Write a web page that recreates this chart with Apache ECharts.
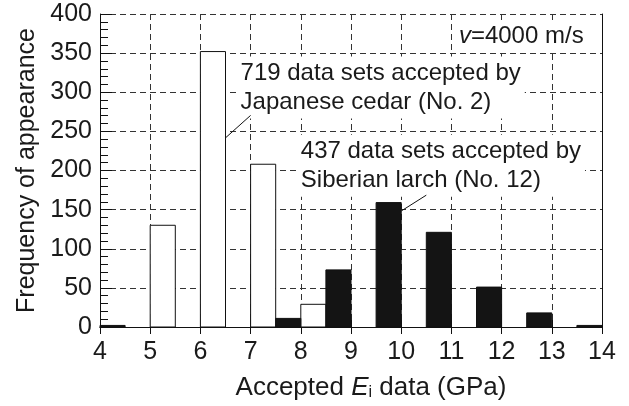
<!DOCTYPE html>
<html>
<head>
<meta charset="utf-8">
<script src="https://cdn.jsdelivr.net/npm/echarts@6/dist/echarts.min.js"></script>
<style>
html,body{margin:0;padding:0;background:#fff;}
#c{width:629px;height:406px;}
</style>
</head>
<body>
<div id="c"></div>
<script>
// ---- data ----
var binWidth = 0.5;                       // GPa width of each histogram bin
var cedarBinStart = [5, 6, 7, 8];         // Japanese cedar (No. 2), white bars
var cedarCounts   = [130, 352, 208, 29];
var larchBinStart = [4, 7.5, 8.5, 9.5, 10.5, 11.5, 12.5, 13.5]; // Siberian larch (No. 12), black bars
var larchCounts   = [2, 11, 73, 159, 121, 51, 18, 2];
var xTicks = [4, 5, 6, 7, 8, 9, 10, 11, 12, 13, 14];
var yTicks = [0, 50, 100, 150, 200, 250, 300, 350, 400];

var FONT = '"Liberation Sans", Arial, Helvetica, sans-serif';

function toPairs(starts, counts) {
  return starts.map(function (s, i) { return [s, counts[i]]; });
}

function barRenderer(fill) {
  return function (params, api) {
    var x0 = api.value(0), v = api.value(1);
    var p0 = api.coord([x0, v]);
    var p1 = api.coord([x0 + binWidth, 0]);
    return {
      type: 'rect',
      shape: { x: p0[0], y: p0[1], width: p1[0] - p0[0], height: p1[1] - p0[1] },
      style: { fill: fill, stroke: '#111', lineWidth: 1 }
    };
  };
}

var chart = echarts.init(document.getElementById('c'), null, { renderer: 'canvas' });

var gridLine = { show: true, lineStyle: { color: '#333', width: 1, type: [6, 4] } };

var option = {
  animation: false,
  backgroundColor: '#fff',
  textStyle: { fontFamily: FONT },
  grid: { left: 100, right: 27, top: 14, bottom: 78 },
  xAxis: [{
    type: 'value', min: xTicks[0], max: xTicks[xTicks.length - 1], interval: 1,
    position: 'bottom',
    axisLine: { show: true, lineStyle: { color: '#111', width: 1 } },
    axisTick: { show: true, inside: true, length: 7, lineStyle: { color: '#111' } },
    axisLabel: { fontSize: 25, color: '#1a1a1a', margin: 13, fontFamily: FONT },
    splitLine: gridLine,
    name: 'Accepted {it|E}{sub|i} data (GPa)',
    nameLocation: 'middle', nameGap: 47,
    nameTextStyle: {
      fontSize: 26, color: '#1a1a1a', fontFamily: FONT, padding: [0, 0, 0, 40],
      rich: {
        it: { fontSize: 26, fontStyle: 'italic', color: '#1a1a1a', fontFamily: FONT },
        sub: { fontSize: 16, color: '#1a1a1a', fontFamily: FONT, verticalAlign: 'bottom', padding: [11, 0, 0, 0] }
      }
    }
  }, {
    type: 'value', min: xTicks[0], max: xTicks[xTicks.length - 1], interval: 1,
    position: 'top',
    axisLine: { show: true, lineStyle: { color: '#111', width: 1 } },
    axisTick: { show: true, inside: true, length: 7, lineStyle: { color: '#111' } },
    axisLabel: { show: false },
    splitLine: { show: false }
  }],
  yAxis: [{
    type: 'value', min: yTicks[0], max: yTicks[yTicks.length - 1], interval: 50,
    axisLine: { show: true, lineStyle: { color: '#111', width: 1 } },
    axisTick: { show: true, inside: true, length: 12, lineStyle: { color: '#111' } },
    minorTick: { show: true, splitNumber: 5, length: 8, lineStyle: { color: '#111' } },
    axisLabel: { fontSize: 25, color: '#1a1a1a', margin: 8, fontFamily: FONT },
    splitLine: gridLine,
    name: 'Frequency of appearance', nameLocation: 'middle', nameGap: 59,
    nameTextStyle: { fontSize: 25, color: '#1a1a1a', fontFamily: FONT }
  }, {
    type: 'value', min: yTicks[0], max: yTicks[yTicks.length - 1], interval: 50,
    position: 'right',
    axisLine: { show: true, lineStyle: { color: '#111', width: 1 } },
    axisTick: { show: false },
    axisLabel: { show: false },
    splitLine: { show: false }
  }],
  series: [{
    type: 'custom', name: 'Japanese cedar (No. 2)',
    renderItem: barRenderer('#ffffff'),
    data: toPairs(cedarBinStart, cedarCounts),
    encode: { x: 0, y: 1 }, z: 3
  }, {
    type: 'custom', name: 'Siberian larch (No. 12)',
    renderItem: barRenderer('#141414'),
    data: toPairs(larchBinStart, larchCounts),
    encode: { x: 0, y: 1 }, z: 3
  }]
};
chart.setOption(option);

// annotations placed via the chart's own coordinate conversion
function px(x, y) { return chart.convertToPixel({ xAxisIndex: 0, yAxisIndex: 0 }, [x, y]); }

var vPos = px(11.05, 372);
var cedarTxt = px(6.76, 306);
var larchTxt = px(7.96, 206);
var cl0 = px(6.5, 241.7), cl1 = px(7.0, 270.4);
var ll0 = px(10.0, 148.2), ll1 = px(10.5, 168.5);

chart.setOption({
  graphic: [
    {
      type: 'text', x: vPos[0], y: vPos[1], z: 10,
      style: {
        text: '{it|v}=4000 m/s', fontSize: 24, fontFamily: FONT, fill: '#1a1a1a',
        backgroundColor: '#fff', padding: [3, 6, 3, 5], verticalAlign: 'middle',
        rich: { it: { fontStyle: 'italic', fontSize: 24, fontFamily: FONT, fill: '#1a1a1a' } }
      }
    },
    {
      type: 'text', x: cedarTxt[0], y: cedarTxt[1], z: 10,
      style: {
        text: '719 data sets accepted by\nJapanese cedar (No. 2)', fontSize: 24, lineHeight: 29,
        fontFamily: FONT, fill: '#1a1a1a', backgroundColor: '#fff', padding: [2, 4, 2, 2],
        verticalAlign: 'middle'
      }
    },
    {
      type: 'text', x: larchTxt[0], y: larchTxt[1], z: 10,
      style: {
        text: '437 data sets accepted by\nSiberian larch (No. 12)', fontSize: 24, lineHeight: 29,
        fontFamily: FONT, fill: '#1a1a1a', backgroundColor: '#fff', padding: [2, 4, 2, 2],
        verticalAlign: 'middle'
      }
    },
    {
      type: 'line', z: 10,
      shape: { x1: cl0[0], y1: cl0[1], x2: cl1[0], y2: cl1[1] },
      style: { stroke: '#111', lineWidth: 1 }
    },
    {
      type: 'line', z: 10,
      shape: { x1: ll0[0], y1: ll0[1], x2: ll1[0], y2: ll1[1] },
      style: { stroke: '#111', lineWidth: 1 }
    }
  ]
});
</script>
</body>
</html>
